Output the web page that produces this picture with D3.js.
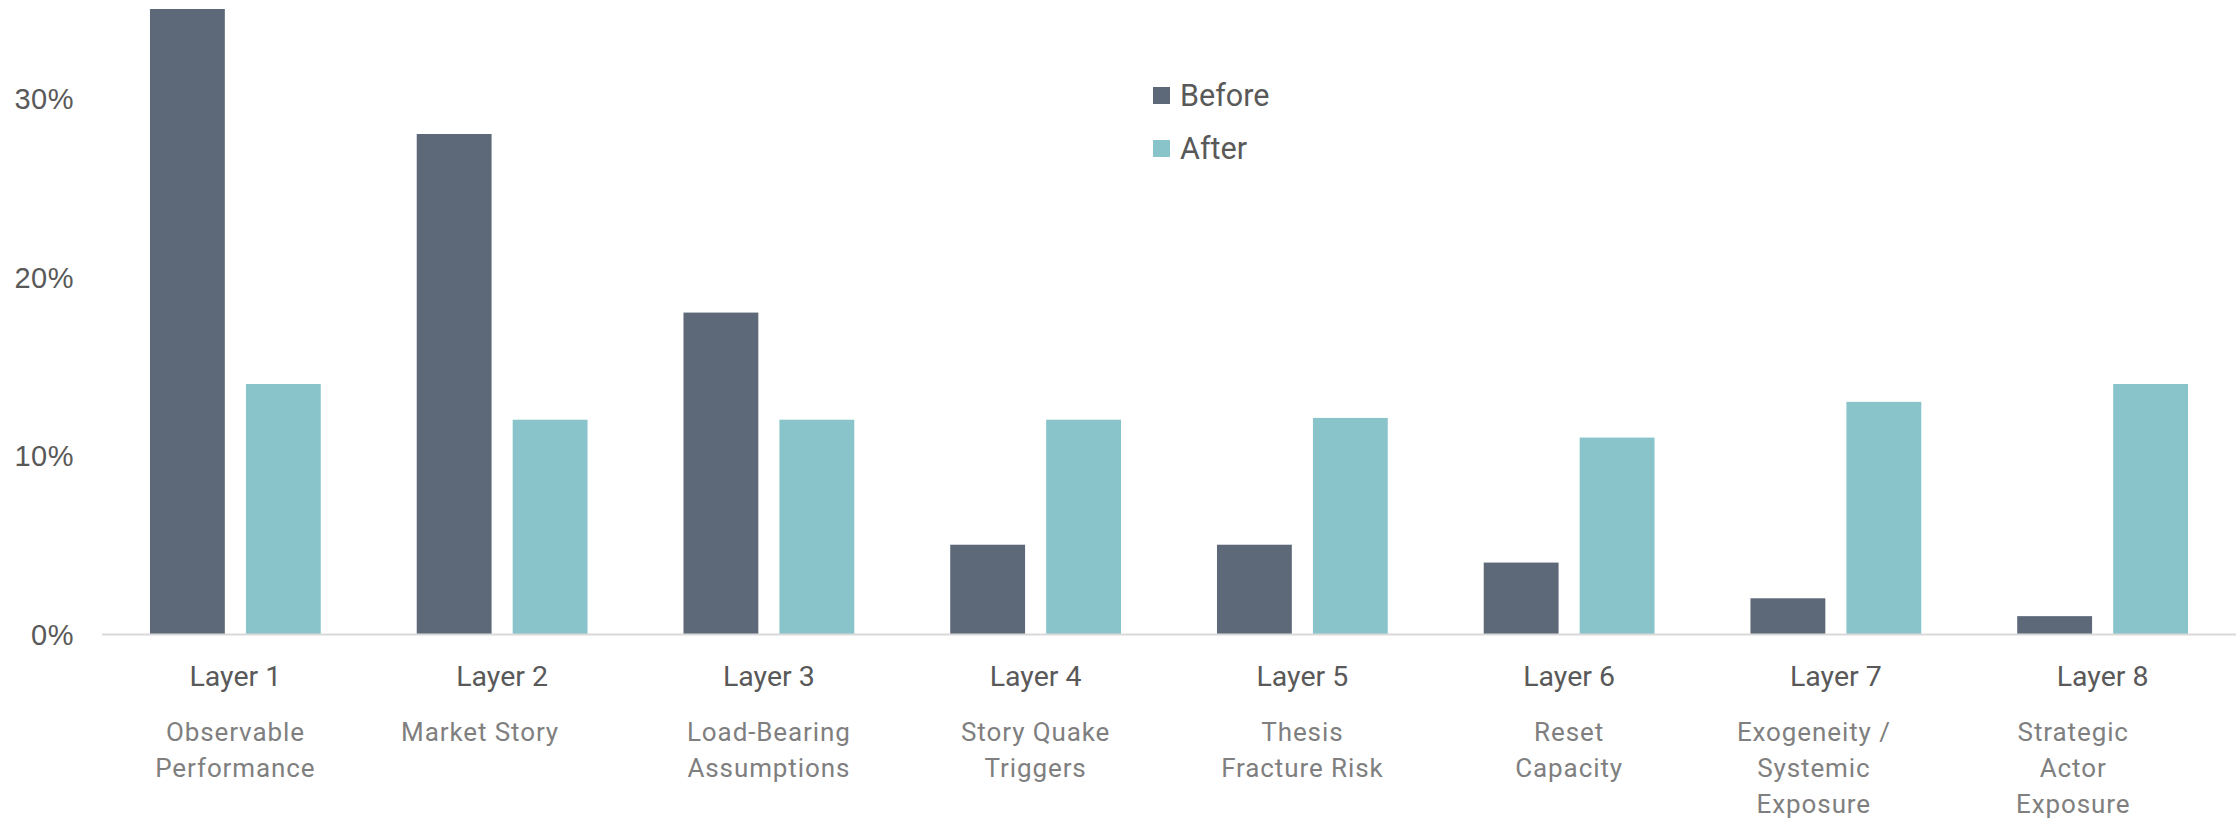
<!DOCTYPE html>
<meta charset="utf-8">
<style>
    body {
        margin: 0;
        padding: 0;
        background: #ffffff;
        font-family: Roboto, "Liberation Sans", sans-serif;
    }

    svg {
        display: block;
    }

    .axis-y text {
        fill: #595959;
        font-size: 29px;
        letter-spacing: 0.5px;
    }

    .layer-label {
        fill: #595959;
        font-size: 28.5px;
    }

    .sub-label {
        fill: #7f7f7f;
        font-size: 26px;
        letter-spacing: 0.9px;
        white-space: pre;
    }

    .legend text {
        fill: #595959;
        font-size: 30.5px;
    }
</style>
<svg></svg>
<script src="https://cdnjs.cloudflare.com/ajax/libs/d3/7.8.5/d3.min.js"></script>
<script>
    var layers = ["Layer 1", "Layer 2", "Layer 3", "Layer 4", "Layer 5", "Layer 6", "Layer 7", "Layer 8"];
    // trailing spaces kept as in the source labels
    var subLabels = [
        ["Observable", "Performance"],
        ["Market Story      "],
        ["Load-Bearing", "Assumptions"],
        ["Story Quake", "Triggers"],
        ["Thesis", "Fracture Risk"],
        ["Reset", "Capacity"],
        ["Exogeneity /      ", "Systemic      ", "Exposure      "],
        ["Strategic        ", "Actor        ", "Exposure        "]
    ];
    var seriesNames = ["Before", "After"];
    var before = [0.35, 0.28, 0.18, 0.05, 0.05, 0.04, 0.02, 0.01];
    var after = [0.14, 0.12, 0.12, 0.12, 0.121, 0.11, 0.13, 0.14];
    var yTicks = [0, 0.1, 0.2, 0.3];
    var colors = ["#5d6878", "#89c4ca"];

    var width = 2240,
        height = 818;
    var margin = {top: 9, right: 4, bottom: 184, left: 102};

    var svg = d3.select("svg")
        .attr("width", width)
        .attr("height", height);

    var x0 = d3.scaleBand()
        .domain(layers)
        .range([margin.left, width - margin.right])
        .padding(0);

    var x1 = d3.scaleBand()
        .domain(seriesNames)
        .range([0, x0.bandwidth()])
        .paddingInner(0.22)
        .paddingOuter(0.5);

    var y = d3.scaleLinear()
        .domain([0, 0.35])
        .range([height - margin.bottom, margin.top]);

    var rows = layers.map(function(l, i) {
        return {layer: l, values: [before[i], after[i]]};
    });

    // y axis labels only, no gridlines
    var yAxis = svg.append("g")
        .attr("class", "axis-y")
        .attr("transform", "translate(" + 74 + ",0)")
        .call(d3.axisLeft(y).tickValues(yTicks).tickFormat(d3.format(".0%")).tickSize(0).tickPadding(0));
    yAxis.select(".domain").remove();
    yAxis.selectAll("text").attr("dy", "0.35em");

    var groups = svg.append("g")
        .selectAll("g")
        .data(rows)
        .enter().append("g")
        .attr("transform", function(d) {
            return "translate(" + x0(d.layer) + ",0)";
        });

    groups.selectAll("rect")
        .data(function(d) {
            return d.values.map(function(v, j) {
                return {name: seriesNames[j], value: v, idx: j};
            });
        })
        .enter().append("rect")
        .attr("x", function(d) {
            return x1(d.name);
        })
        .attr("width", x1.bandwidth())
        .attr("y", function(d) {
            return y(d.value);
        })
        .attr("height", function(d) {
            return y(0) - y(d.value);
        })
        .attr("fill", function(d) {
            return colors[d.idx];
        });

    // baseline
    svg.append("line")
        .attr("x1", margin.left)
        .attr("x2", width - margin.right)
        .attr("y1", y(0) + 0.5)
        .attr("y2", y(0) + 0.5)
        .attr("stroke", "#d9d9d9")
        .attr("stroke-width", 2);

    var labels = svg.append("g");
    labels.selectAll("text.layer-label")
        .data(layers)
        .enter().append("text")
        .attr("class", "layer-label")
        .attr("text-anchor", "middle")
        .attr("x", function(d) {
            return x0(d) + x0.bandwidth() / 2;
        })
        .attr("y", y(0) + 42)
        .attr("dy", "0.35em")
        .text(function(d) {
            return d;
        });

    layers.forEach(function(l, i) {
        var t = labels.append("text")
            .attr("class", "sub-label")
            .attr("text-anchor", "middle")
            .attr("x", x0(l) + x0.bandwidth() / 2)
            .attr("y", y(0) + 98)
            .attr("dy", "0.35em");
        t.selectAll("tspan")
            .data(subLabels[i])
            .enter().append("tspan")
            .attr("x", x0(l) + x0.bandwidth() / 2)
            .attr("dy", function(d, k) {
                return k === 0 ? "0.35em" : "1.38em";
            })
            .text(function(d) {
                return d;
            });
    });

    // legend
    var legend = svg.append("g")
        .attr("class", "legend")
        .attr("transform", "translate(1153,87)");
    var li = legend.selectAll("g")
        .data(seriesNames)
        .enter().append("g")
        .attr("transform", function(d, i) {
            return "translate(0," + i * 53 + ")";
        });
    li.append("rect")
        .attr("width", 17)
        .attr("height", 17)
        .attr("fill", function(d, i) {
            return colors[i];
        });
    li.append("text")
        .attr("x", 27)
        .attr("y", 8.5)
        .attr("dy", "0.35em")
        .text(function(d) {
            return d;
        });
</script>
